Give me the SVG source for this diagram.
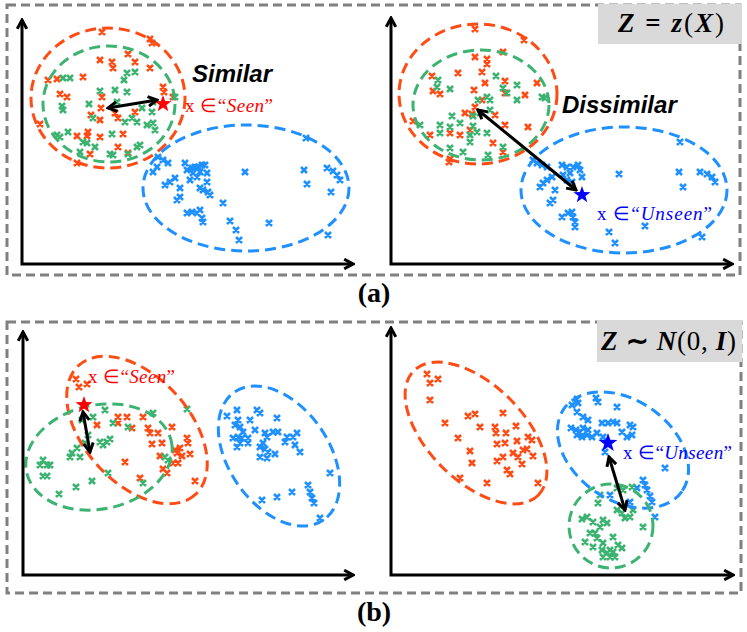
<svg xmlns="http://www.w3.org/2000/svg" width="747" height="632" viewBox="0 0 747 632">
<style>
.frame{fill:none;stroke:#808080;stroke-width:3;stroke-dasharray:9 5}
.lbl{fill:#d9d9d9}
.ax{fill:none;stroke:#000;stroke-width:3;marker-start:url(#ah);marker-end:url(#ah)}
.arr{fill:none;stroke:#000;stroke-width:3;marker-start:url(#ah);marker-end:url(#ah)}
.el{fill:none;stroke-width:3;stroke-dasharray:11 6}
.mk{fill:none;stroke-width:2.6}
.o{stroke:#ff4c14}.g{stroke:#3cb371}.b{stroke:#1e90ff}
.word{font-family:"Liberation Sans",Arial,sans-serif;font-weight:bold;font-style:italic;font-size:24px;fill:#000}
.math{font-family:"Liberation Serif","Times New Roman",serif;font-size:19px}
.eq{font-family:"Liberation Serif","Times New Roman",serif;font-weight:bold;font-size:27px;fill:#000}
.cap{font-family:"Liberation Serif","Times New Roman",serif;font-weight:bold;font-size:28px;fill:#000;text-anchor:middle}
</style>
<defs>
<marker id="ah" viewBox="0 0 10 10" refX="8.5" refY="5" markerWidth="4.2" markerHeight="4.2" orient="auto-start-reverse" markerUnits="strokeWidth"><path d="M1.5,1.2 L8.5,5 L1.5,8.8" fill="none" stroke="#000" stroke-width="2.4"/></marker>
<path id="star" d="M0,-9 L2.12,-2.91 L8.56,-2.78 L3.42,1.11 L5.29,7.28 L0,3.6 L-5.29,7.28 L-3.42,1.11 L-8.56,-2.78 L-2.12,-2.91 Z"/>
</defs>
<rect width="747" height="632" fill="#fff"/>

<g id="frame-a">
<rect class="frame" x="7" y="5" width="733" height="270"/>
<rect class="lbl" x="598" y="4" width="144" height="40"/>
<text class="eq" x="618" y="32" textLength="106" lengthAdjust="spacing"><tspan font-style="italic">Z</tspan> = <tspan font-style="italic">z</tspan><tspan font-weight="normal">(</tspan><tspan font-style="italic">X</tspan><tspan font-weight="normal">)</tspan></text>
<text class="cap" x="374" y="302">(a)</text>
</g>

<g id="frame-b">
<rect class="frame" x="7" y="322" width="734" height="271"/>
<rect class="lbl" x="597" y="320" width="145" height="42"/>
<text class="eq" x="601" y="350" textLength="135" lengthAdjust="spacing"><tspan font-style="italic">Z</tspan> ∼ <tspan font-style="italic">N</tspan><tspan font-weight="normal">(0, </tspan><tspan font-style="italic">I</tspan><tspan font-weight="normal">)</tspan></text>
<text class="cap" x="374" y="621">(b)</text>
</g>

<g id="panel-a-left">
<path class="mk o" d="M99 29l6 6m0-6l-6 6M147 36l6 6m0-6l-6 6M149 40l6 6m0-6l-6 6M97 57l6 6m0-6l-6 6M109 59l6 6m0-6l-6 6M132 59l6 6m0-6l-6 6M110 65l6 6m0-6l-6 6M147 65l6 6m0-6l-6 6M125 51l6 6m0-6l-6 6M45 77l6 6m0-6l-6 6M54 76l6 6m0-6l-6 6M80 74l6 6m0-6l-6 6M160 84l6 6m0-6l-6 6M161 89l6 6m0-6l-6 6M57 91l6 6m0-6l-6 6M64 94l6 6m0-6l-6 6M99 94l6 6m0-6l-6 6M98 105l6 6m0-6l-6 6M88 112l6 6m0-6l-6 6M112 110l6 6m0-6l-6 6M115 115l6 6m0-6l-6 6M132 109l6 6m0-6l-6 6M37 121l6 6m0-6l-6 6M74 133l6 6m0-6l-6 6M85 129l6 6m0-6l-6 6M84 133l6 6m0-6l-6 6M120 131l6 6m0-6l-6 6M97 134l6 6m0-6l-6 6M115 144l6 6m0-6l-6 6M125 150l6 6m0-6l-6 6M87 151l6 6m0-6l-6 6M74 160l6 6m0-6l-6 6M170 94l6 6m0-6l-6 6M97 117l6 6m0-6l-6 6"/>
<path class="mk g" d="M60 75l6 6m0-6l-6 6M67 75l6 6m0-6l-6 6M124 70l6 6m0-6l-6 6M132 69l6 6m0-6l-6 6M121 77l6 6m0-6l-6 6M112 87l6 6m0-6l-6 6M124 89l6 6m0-6l-6 6M97 88l6 6m0-6l-6 6M59 103l6 6m0-6l-6 6M60 107l6 6m0-6l-6 6M86 101l6 6m0-6l-6 6M90 115l6 6m0-6l-6 6M122 119l6 6m0-6l-6 6M129 115l6 6m0-6l-6 6M134 119l6 6m0-6l-6 6M144 122l6 6m0-6l-6 6M150 120l6 6m0-6l-6 6M152 127l6 6m0-6l-6 6M149 109l6 6m0-6l-6 6M150 99l6 6m0-6l-6 6M54 132l6 6m0-6l-6 6M57 134l6 6m0-6l-6 6M65 129l6 6m0-6l-6 6M80 139l6 6m0-6l-6 6M84 140l6 6m0-6l-6 6M109 131l6 6m0-6l-6 6M77 149l6 6m0-6l-6 6M107 151l6 6m0-6l-6 6M110 152l6 6m0-6l-6 6M125 151l6 6m0-6l-6 6M134 144l6 6m0-6l-6 6M137 142l6 6m0-6l-6 6M172 94l6 6m0-6l-6 6M92 144l6 6m0-6l-6 6M114 99l6 6m0-6l-6 6M139 105l6 6m0-6l-6 6"/>
<path class="mk b" d="M155 154l6 6m0-6l-6 6M160 157l6 6m0-6l-6 6M165 160l6 6m0-6l-6 6M150 169l6 6m0-6l-6 6M154 164l6 6m0-6l-6 6M182 160l6 6m0-6l-6 6M184 167l6 6m0-6l-6 6M189 165l6 6m0-6l-6 6M192 164l6 6m0-6l-6 6M195 164l6 6m0-6l-6 6M199 162l6 6m0-6l-6 6M202 162l6 6m0-6l-6 6M190 170l6 6m0-6l-6 6M197 169l6 6m0-6l-6 6M204 170l6 6m0-6l-6 6M187 177l6 6m0-6l-6 6M194 174l6 6m0-6l-6 6M172 175l6 6m0-6l-6 6M167 179l6 6m0-6l-6 6M162 182l6 6m0-6l-6 6M177 185l6 6m0-6l-6 6M204 179l6 6m0-6l-6 6M197 185l6 6m0-6l-6 6M200 187l6 6m0-6l-6 6M205 189l6 6m0-6l-6 6M207 192l6 6m0-6l-6 6M177 194l6 6m0-6l-6 6M174 197l6 6m0-6l-6 6M220 200l6 6m0-6l-6 6M197 207l6 6m0-6l-6 6M194 210l6 6m0-6l-6 6M189 209l6 6m0-6l-6 6M184 210l6 6m0-6l-6 6M199 215l6 6m0-6l-6 6M200 219l6 6m0-6l-6 6M227 218l6 6m0-6l-6 6M233 227l6 6m0-6l-6 6M236 237l6 6m0-6l-6 6M242 169l6 6m0-6l-6 6M266 220l6 6m0-6l-6 6M303 135l6 6m0-6l-6 6M301 167l6 6m0-6l-6 6M304 181l6 6m0-6l-6 6M324 165l6 6m0-6l-6 6M330 168l6 6m0-6l-6 6M334 172l6 6m0-6l-6 6M337 177l6 6m0-6l-6 6M328 189l6 6m0-6l-6 6M325 232l6 6m0-6l-6 6"/>
<ellipse class="el o" cx="108" cy="98" rx="77" ry="70"/>
<ellipse class="el g" cx="109" cy="104" rx="66" ry="58"/>
<ellipse class="el b" cx="246" cy="188" rx="103" ry="63"/>
<use href="#star" x="163" y="104" fill="#ff0000"/>
<text class="word" x="192" y="82">Similar</text>
<text class="math" x="185" y="112" fill="#ff0000" textLength="88">x ∈“<tspan font-style="italic">Seen</tspan>”</text>
</g>

<g id="panel-a-right">
<path class="mk o" d="M472 26l6 6m0-6l-6 6M521 37l6 6m0-6l-6 6M500 49l6 6m0-6l-6 6M472 54l6 6m0-6l-6 6M484 56l6 6m0-6l-6 6M484 61l6 6m0-6l-6 6M479 69l6 6m0-6l-6 6M455 70l6 6m0-6l-6 6M429 73l6 6m0-6l-6 6M502 78l6 6m0-6l-6 6M482 80l6 6m0-6l-6 6M534 80l6 6m0-6l-6 6M437 91l6 6m0-6l-6 6M430 88l6 6m0-6l-6 6M471 87l6 6m0-6l-6 6M522 92l6 6m0-6l-6 6M502 90l6 6m0-6l-6 6M472 104l6 6m0-6l-6 6M462 110l6 6m0-6l-6 6M469 111l6 6m0-6l-6 6M492 112l6 6m0-6l-6 6M410 118l6 6m0-6l-6 6M427 132l6 6m0-6l-6 6M447 130l6 6m0-6l-6 6M457 132l6 6m0-6l-6 6M467 127l6 6m0-6l-6 6M502 122l6 6m0-6l-6 6M525 124l6 6m0-6l-6 6M490 140l6 6m0-6l-6 6M446 159l6 6m0-6l-6 6M447 156l6 6m0-6l-6 6M500 149l6 6m0-6l-6 6M479 97l6 6m0-6l-6 6"/>
<path class="mk g" d="M435 77l6 6m0-6l-6 6M434 84l6 6m0-6l-6 6M447 86l6 6m0-6l-6 6M493 73l6 6m0-6l-6 6M514 82l6 6m0-6l-6 6M500 85l6 6m0-6l-6 6M504 90l6 6m0-6l-6 6M514 97l6 6m0-6l-6 6M484 94l6 6m0-6l-6 6M475 97l6 6m0-6l-6 6M487 97l6 6m0-6l-6 6M539 94l6 6m0-6l-6 6M542 95l6 6m0-6l-6 6M449 113l6 6m0-6l-6 6M470 113l6 6m0-6l-6 6M477 110l6 6m0-6l-6 6M437 122l6 6m0-6l-6 6M447 124l6 6m0-6l-6 6M470 123l6 6m0-6l-6 6M474 129l6 6m0-6l-6 6M467 132l6 6m0-6l-6 6M437 130l6 6m0-6l-6 6M417 122l6 6m0-6l-6 6M484 130l6 6m0-6l-6 6M467 139l6 6m0-6l-6 6M447 145l6 6m0-6l-6 6M460 149l6 6m0-6l-6 6M485 152l6 6m0-6l-6 6M457 120l6 6m0-6l-6 6M500 144l6 6m0-6l-6 6M487 107l6 6m0-6l-6 6"/>
<path class="mk b" d="M530 157l6 6m0-6l-6 6M534 160l6 6m0-6l-6 6M539 162l6 6m0-6l-6 6M544 164l6 6m0-6l-6 6M559 162l6 6m0-6l-6 6M564 164l6 6m0-6l-6 6M570 164l6 6m0-6l-6 6M575 162l6 6m0-6l-6 6M577 167l6 6m0-6l-6 6M567 170l6 6m0-6l-6 6M560 172l6 6m0-6l-6 6M549 174l6 6m0-6l-6 6M544 177l6 6m0-6l-6 6M540 180l6 6m0-6l-6 6M537 184l6 6m0-6l-6 6M552 187l6 6m0-6l-6 6M564 177l6 6m0-6l-6 6M569 179l6 6m0-6l-6 6M579 174l6 6m0-6l-6 6M550 197l6 6m0-6l-6 6M547 200l6 6m0-6l-6 6M559 214l6 6m0-6l-6 6M565 210l6 6m0-6l-6 6M569 209l6 6m0-6l-6 6M570 214l6 6m0-6l-6 6M572 219l6 6m0-6l-6 6M572 224l6 6m0-6l-6 6M606 229l6 6m0-6l-6 6M612 240l6 6m0-6l-6 6M616 171l6 6m0-6l-6 6M642 223l6 6m0-6l-6 6M677 139l6 6m0-6l-6 6M676 169l6 6m0-6l-6 6M680 184l6 6m0-6l-6 6M697 169l6 6m0-6l-6 6M704 171l6 6m0-6l-6 6M709 174l6 6m0-6l-6 6M712 179l6 6m0-6l-6 6M699 234l6 6m0-6l-6 6"/>
<ellipse class="el o" cx="478" cy="94" rx="79" ry="70"/>
<ellipse class="el g" cx="481" cy="105" rx="68" ry="55"/>
<ellipse class="el b" cx="624" cy="190" rx="103" ry="63"/>
<use href="#star" x="582" y="195" fill="#0000ff"/>
<text class="word" x="562" y="113">Dissimilar</text>
<text class="math" x="597" y="220" fill="#0000ff" textLength="115">x ∈“<tspan font-style="italic">Unseen</tspan>”</text>
</g>

<g id="panel-b-left">
<path class="mk o" d="M73 376l6 6m0-6l-6 6M76 384l6 6m0-6l-6 6M84 381l6 6m0-6l-6 6M94 422l6 6m0-6l-6 6M115 414l6 6m0-6l-6 6M124 414l6 6m0-6l-6 6M129 425l6 6m0-6l-6 6M145 425l6 6m0-6l-6 6M147 430l6 6m0-6l-6 6M155 430l6 6m0-6l-6 6M149 441l6 6m0-6l-6 6M159 440l6 6m0-6l-6 6M157 453l6 6m0-6l-6 6M169 424l6 6m0-6l-6 6M172 447l6 6m0-6l-6 6M174 450l6 6m0-6l-6 6M177 445l6 6m0-6l-6 6M179 453l6 6m0-6l-6 6M184 435l6 6m0-6l-6 6M185 440l6 6m0-6l-6 6M187 451l6 6m0-6l-6 6M170 460l6 6m0-6l-6 6M175 460l6 6m0-6l-6 6M160 466l6 6m0-6l-6 6M164 470l6 6m0-6l-6 6M122 459l6 6m0-6l-6 6M137 475l6 6m0-6l-6 6M192 478l6 6m0-6l-6 6M140 414l6 6m0-6l-6 6M115 420l6 6m0-6l-6 6"/>
<path class="mk g" d="M40 457l6 6m0-6l-6 6M37 462l6 6m0-6l-6 6M44 462l6 6m0-6l-6 6M47 462l6 6m0-6l-6 6M40 473l6 6m0-6l-6 6M44 473l6 6m0-6l-6 6M56 491l6 6m0-6l-6 6M73 484l6 6m0-6l-6 6M89 478l6 6m0-6l-6 6M69 450l6 6m0-6l-6 6M67 454l6 6m0-6l-6 6M77 454l6 6m0-6l-6 6M74 445l6 6m0-6l-6 6M82 440l6 6m0-6l-6 6M79 417l6 6m0-6l-6 6M90 414l6 6m0-6l-6 6M102 407l6 6m0-6l-6 6M110 420l6 6m0-6l-6 6M125 424l6 6m0-6l-6 6M97 439l6 6m0-6l-6 6M100 442l6 6m0-6l-6 6M104 439l6 6m0-6l-6 6M107 436l6 6m0-6l-6 6M85 432l6 6m0-6l-6 6M150 410l6 6m0-6l-6 6M184 406l6 6m0-6l-6 6M165 457l6 6m0-6l-6 6M105 470l6 6m0-6l-6 6M140 480l6 6m0-6l-6 6M162 454l6 6m0-6l-6 6"/>
<path class="mk b" d="M224 413l6 6m0-6l-6 6M234 407l6 6m0-6l-6 6M235 417l6 6m0-6l-6 6M232 422l6 6m0-6l-6 6M237 424l6 6m0-6l-6 6M240 429l6 6m0-6l-6 6M247 417l6 6m0-6l-6 6M254 407l6 6m0-6l-6 6M257 410l6 6m0-6l-6 6M252 427l6 6m0-6l-6 6M262 430l6 6m0-6l-6 6M264 434l6 6m0-6l-6 6M274 415l6 6m0-6l-6 6M270 429l6 6m0-6l-6 6M275 429l6 6m0-6l-6 6M230 435l6 6m0-6l-6 6M235 434l6 6m0-6l-6 6M239 435l6 6m0-6l-6 6M245 435l6 6m0-6l-6 6M245 440l6 6m0-6l-6 6M237 440l6 6m0-6l-6 6M234 444l6 6m0-6l-6 6M260 440l6 6m0-6l-6 6M257 444l6 6m0-6l-6 6M262 446l6 6m0-6l-6 6M265 449l6 6m0-6l-6 6M272 451l6 6m0-6l-6 6M284 434l6 6m0-6l-6 6M282 439l6 6m0-6l-6 6M290 434l6 6m0-6l-6 6M294 430l6 6m0-6l-6 6M292 442l6 6m0-6l-6 6M297 449l6 6m0-6l-6 6M264 455l6 6m0-6l-6 6M257 454l6 6m0-6l-6 6M327 470l6 6m0-6l-6 6M305 482l6 6m0-6l-6 6M307 489l6 6m0-6l-6 6M309 495l6 6m0-6l-6 6M311 500l6 6m0-6l-6 6M289 489l6 6m0-6l-6 6M274 494l6 6m0-6l-6 6M259 497l6 6m0-6l-6 6M317 515l6 6m0-6l-6 6"/>
<ellipse class="el o" cx="137" cy="430" rx="87" ry="53" transform="rotate(48 137 430)"/>
<ellipse class="el g" cx="99" cy="457" rx="74" ry="52" transform="rotate(-12 99 457)"/>
<ellipse class="el b" cx="279" cy="456" rx="78" ry="50" transform="rotate(55 279 456)"/>
<use href="#star" x="84" y="405" fill="#ff0000"/>
<text class="math" x="88" y="383" fill="#ff0000" textLength="87">x ∈“<tspan font-style="italic">Seen</tspan>”</text>
</g>

<g id="panel-b-right">
<path class="mk o" d="M424 371l6 6m0-6l-6 6M427 380l6 6m0-6l-6 6M435 376l6 6m0-6l-6 6M427 397l6 6m0-6l-6 6M442 420l6 6m0-6l-6 6M455 435l6 6m0-6l-6 6M465 413l6 6m0-6l-6 6M472 411l6 6m0-6l-6 6M477 424l6 6m0-6l-6 6M492 424l6 6m0-6l-6 6M493 430l6 6m0-6l-6 6M500 410l6 6m0-6l-6 6M503 430l6 6m0-6l-6 6M513 423l6 6m0-6l-6 6M494 441l6 6m0-6l-6 6M502 440l6 6m0-6l-6 6M514 438l6 6m0-6l-6 6M525 434l6 6m0-6l-6 6M529 437l6 6m0-6l-6 6M467 448l6 6m0-6l-6 6M469 460l6 6m0-6l-6 6M494 458l6 6m0-6l-6 6M500 454l6 6m0-6l-6 6M510 450l6 6m0-6l-6 6M515 454l6 6m0-6l-6 6M520 447l6 6m0-6l-6 6M519 461l6 6m0-6l-6 6M530 453l6 6m0-6l-6 6M504 467l6 6m0-6l-6 6M507 471l6 6m0-6l-6 6M457 475l6 6m0-6l-6 6M484 480l6 6m0-6l-6 6M535 480l6 6m0-6l-6 6M524 446l6 6m0-6l-6 6"/>
<path class="mk b" d="M574 396l6 6m0-6l-6 6M575 400l6 6m0-6l-6 6M569 402l6 6m0-6l-6 6M593 395l6 6m0-6l-6 6M595 399l6 6m0-6l-6 6M614 404l6 6m0-6l-6 6M574 409l6 6m0-6l-6 6M580 414l6 6m0-6l-6 6M585 417l6 6m0-6l-6 6M599 420l6 6m0-6l-6 6M605 420l6 6m0-6l-6 6M610 419l6 6m0-6l-6 6M614 420l6 6m0-6l-6 6M627 422l6 6m0-6l-6 6M630 424l6 6m0-6l-6 6M568 425l6 6m0-6l-6 6M573 427l6 6m0-6l-6 6M577 429l6 6m0-6l-6 6M580 425l6 6m0-6l-6 6M585 427l6 6m0-6l-6 6M574 432l6 6m0-6l-6 6M579 434l6 6m0-6l-6 6M584 432l6 6m0-6l-6 6M589 434l6 6m0-6l-6 6M594 430l6 6m0-6l-6 6M600 434l6 6m0-6l-6 6M619 429l6 6m0-6l-6 6M624 434l6 6m0-6l-6 6M629 432l6 6m0-6l-6 6M602 449l6 6m0-6l-6 6M662 465l6 6m0-6l-6 6M640 477l6 6m0-6l-6 6M642 482l6 6m0-6l-6 6M644 487l6 6m0-6l-6 6M647 493l6 6m0-6l-6 6M649 499l6 6m0-6l-6 6M652 514l6 6m0-6l-6 6M607 492l6 6m0-6l-6 6M634 485l6 6m0-6l-6 6M627 499l6 6m0-6l-6 6"/>
<path class="mk g" d="M597 492l6 6m0-6l-6 6M595 500l6 6m0-6l-6 6M614 485l6 6m0-6l-6 6M620 487l6 6m0-6l-6 6M629 484l6 6m0-6l-6 6M614 507l6 6m0-6l-6 6M619 510l6 6m0-6l-6 6M622 515l6 6m0-6l-6 6M627 514l6 6m0-6l-6 6M630 507l6 6m0-6l-6 6M584 514l6 6m0-6l-6 6M579 516l6 6m0-6l-6 6M590 519l6 6m0-6l-6 6M600 517l6 6m0-6l-6 6M604 520l6 6m0-6l-6 6M597 524l6 6m0-6l-6 6M640 524l6 6m0-6l-6 6M587 530l6 6m0-6l-6 6M592 530l6 6m0-6l-6 6M594 535l6 6m0-6l-6 6M610 534l6 6m0-6l-6 6M590 544l6 6m0-6l-6 6M600 540l6 6m0-6l-6 6M599 547l6 6m0-6l-6 6M604 550l6 6m0-6l-6 6M607 547l6 6m0-6l-6 6M612 554l6 6m0-6l-6 6M600 554l6 6m0-6l-6 6M607 554l6 6m0-6l-6 6M615 542l6 6m0-6l-6 6M619 545l6 6m0-6l-6 6M610 549l6 6m0-6l-6 6M582 539l6 6m0-6l-6 6"/>
<ellipse class="el o" cx="476" cy="433" rx="88" ry="48" transform="rotate(45 476 433)"/>
<ellipse class="el b" cx="623" cy="450" rx="72" ry="50" transform="rotate(35 623 450)"/>
<circle class="el g" cx="611" cy="526" r="42"/>
<use href="#star" x="608" y="443" fill="#0000ff" transform="translate(608 443) scale(1.1) translate(-608 -443)"/>
<text class="math" x="623" y="459" fill="#0000ff" textLength="109">x ∈“<tspan font-style="italic">Unseen</tspan>”</text>
</g>

<g id="connectors">
<path class="ax" d="M22,20 V264 H353"/>
<path class="ax" d="M391,18 V264 H732"/>
<path class="ax" d="M23,332 V575 H353"/>
<path class="ax" d="M391,328 V575 H733"/>
<path class="arr" d="M108,108 L157,100"/>
<path class="arr" d="M478,110 L576,190"/>
<path class="arr" d="M83,412 L90,452"/>
<path class="arr" d="M609,457 L625,510"/>
</g>
</svg>
